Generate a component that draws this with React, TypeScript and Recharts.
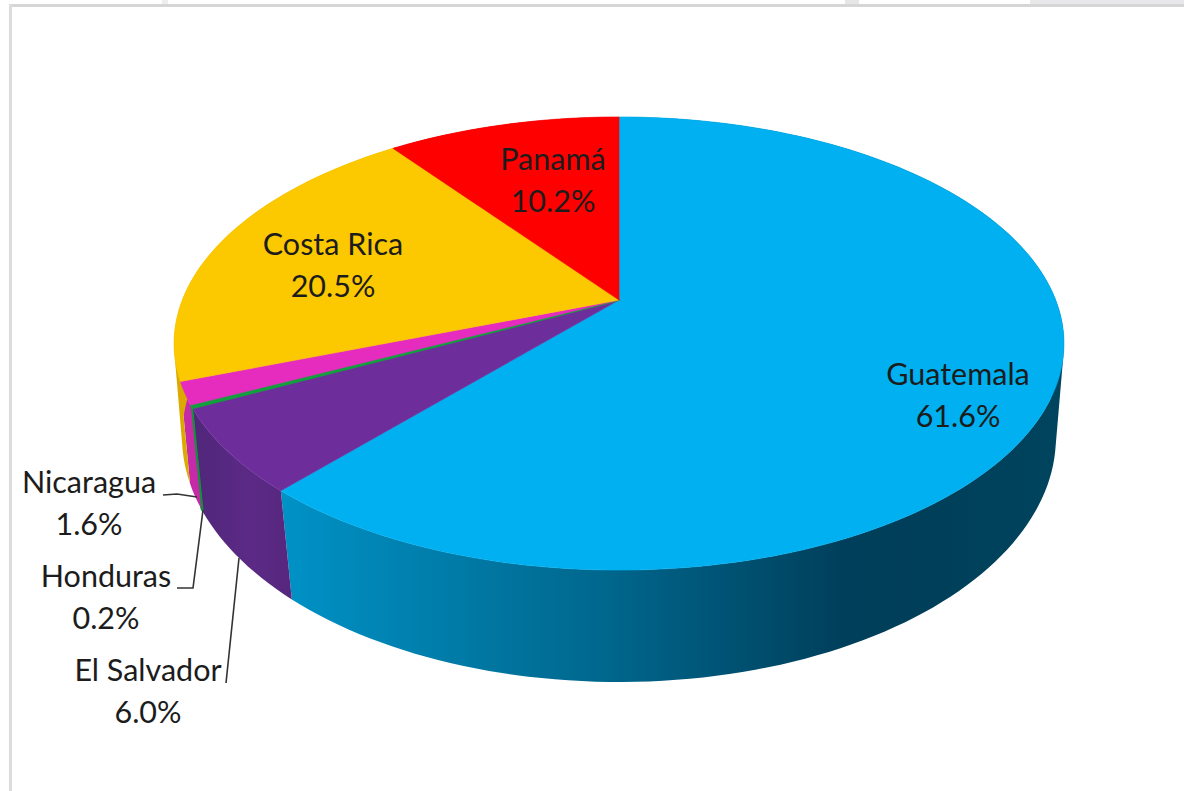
import React from "react";
import { PieChart, Pie } from "recharts";

const countries = ["Guatemala", "El Salvador", "Honduras", "Nicaragua", "Costa Rica", "Panamá"];
const shares = [61.6, 6.0, 0.2, 1.6, 20.5, 10.2];
const topColors = ["#00b0f0", "#6d2e9b", "#12a03c", "#e62cbf", "#fcc800", "#ff0000"];
const wallStops: [number, string][][] = [
  [[0, "#0092c6"], [0.42, "#00668c"], [0.72, "#003f5b"], [0.8, "#003e59"], [1, "#00445e"]],
  [[0, "#50267a"], [0.6, "#5c2a86"], [1, "#56277d"]],
  [[0, "#12903a"], [1, "#12903a"]],
  [[0, "#c62aa8"], [1, "#c62aa8"]],
  [[0, "#dca900"], [1, "#dca900"]],
  [[0, "#b00000"], [1, "#b00000"]],
];

const data = countries.map((name, i) => ({ name, value: shares[i], index: i }));

// the disc is a perspective view, so a plain ellipse puts the slice edges in the wrong spot
const RADIUS = 436.7;
const TOP = { k: 0.192, yScale: 0.4997, xScale: 1, dy: 0 };
const BOTTOM = { k: 0.17, yScale: 0.5447, xScale: 0.986, dy: 95.4 };

type Disc = typeof TOP;

function project(cx: number, cy: number, deg: number, disc: Disc) {
  const u = Math.cos((deg * Math.PI) / 180);
  const v = Math.sin((deg * Math.PI) / 180);
  const d = 1 + disc.k * v;
  return {
    x: cx + (RADIUS * disc.xScale * u) / d,
    y: cy + disc.dy - (RADIUS * disc.yScale * v) / d,
  };
}

function anglesBetween(start: number, end: number) {
  const steps = Math.max(2, Math.ceil(Math.abs(start - end) / 1.5));
  return Array.from({ length: steps + 1 }, (_, i) => start + ((end - start) * i) / steps);
}

function TopSlice(props: any) {
  const { cx, cy, startAngle, endAngle, index } = props;
  const pts = anglesBetween(startAngle, endAngle).map((a) => project(cx, cy, a, TOP));
  const d = `M${cx},${cy}` + pts.map((p) => `L${p.x.toFixed(2)},${p.y.toFixed(2)}`).join("") + "Z";
  // Honduras is a sliver, it only shows as a line in the original
  const width = countries[index] === "Honduras" ? 2 : 0.6;
  return <path d={d} fill={topColors[index]} stroke={topColors[index]} strokeWidth={width} strokeLinejoin="round" />;
}

function WallSlice(props: any) {
  const { cx, cy, startAngle, endAngle, index } = props;
  const angles = anglesBetween(startAngle, endAngle);
  let d = "";
  for (let i = 0; i < angles.length - 1; i++) {
    const quad = [
      project(cx, cy, angles[i], TOP),
      project(cx, cy, angles[i + 1], TOP),
      project(cx, cy, angles[i + 1], BOTTOM),
      project(cx, cy, angles[i], BOTTOM),
    ];
    // same winding on every quad, or they cancel out where they overlap at the sides
    let area = 0;
    quad.forEach((p, j) => {
      const q = quad[(j + 1) % 4];
      area += p.x * q.y - q.x * p.y;
    });
    const pts = area < 0 ? [...quad].reverse() : quad;
    d += "M" + pts.map((p) => `${p.x.toFixed(2)},${p.y.toFixed(2)}`).join("L") + "Z";
  }
  const xs = angles.flatMap((a) => [project(cx, cy, a, TOP).x, project(cx, cy, a, BOTTOM).x]);
  const id = `wall-${index}`;
  const sliver = countries[index] === "Honduras";
  return (
    <g>
      <defs>
        <linearGradient id={id} gradientUnits="userSpaceOnUse" x1={Math.min(...xs)} x2={Math.max(...xs)} y1={0} y2={0}>
          {wallStops[index].map(([o, c]) => (
            <stop key={o} offset={o} stopColor={c} />
          ))}
        </linearGradient>
      </defs>
      <path
        d={d}
        fill={sliver ? wallStops[index][0][1] : `url(#${id})`}
        stroke={sliver ? wallStops[index][0][1] : "none"}
        strokeWidth={sliver ? 1.5 : 0}
      />
    </g>
  );
}

// label anchor (centre of the first line) and optional leader line per country
const labelLayout: Record<string, { x: number; y: number; leader?: string }> = {
  Guatemala: { x: 958, y: 373 },
  "El Salvador": { x: 148, y: 669, leader: "M226,683L239,558" },
  Honduras: { x: 106, y: 575, leader: "M177,588L193,588L203,510" },
  Nicaragua: { x: 89, y: 481, leader: "M163,495L177,494L197,497" },
  "Costa Rica": { x: 333, y: 243 },
  Panamá: { x: 553, y: 158 },
};

function SliceLabel(props: any) {
  const { name, value } = props;
  const pos = labelLayout[name];
  const font = { fontFamily: "Lato, 'Open Sans', sans-serif", fontSize: 30.5, fill: "#1c1c1c" };
  return (
    <g>
      {pos.leader && <path d={pos.leader} fill="none" stroke="#333333" strokeWidth={1.6} />}
      <text x={pos.x} y={pos.y} textAnchor="middle" dominantBaseline="central" {...font}>
        {name}
      </text>
      <text x={pos.x} y={pos.y + 42} textAnchor="middle" dominantBaseline="central" {...font}>
        {`${Number(value).toFixed(1)}%`}
      </text>
    </g>
  );
}

export default function App() {
  return (
    <div style={{ position: "absolute", left: 0, top: 0, width: 1184, height: 791, background: "#fff", overflow: "hidden" }}>
      <div style={{ position: "absolute", left: 1030, top: 0, width: 154, height: 4, background: "#e8e8ea" }} />
      <div style={{ position: "absolute", left: 845, top: 0, width: 14, height: 4, background: "#e6e6e6" }} />
      <div style={{ position: "absolute", left: 162, top: 0, width: 6, height: 4, background: "#eeeeee" }} />
      <div style={{ position: "absolute", left: 9, top: 4, width: 1175, height: 3, background: "#d6d6d6" }} />
      <div style={{ position: "absolute", left: 9, top: 4, width: 3, height: 787, background: "#dcdcdc" }} />
      <div style={{ position: "absolute", left: 0, top: 0 }}>
        <PieChart width={1184} height={791} margin={{ top: 0, right: 0, bottom: 0, left: 0 }}>
          <Pie
            data={data}
            dataKey="value"
            nameKey="name"
            cx={619}
            cy={300}
            outerRadius={RADIUS}
            startAngle={90}
            endAngle={-270}
            stroke="none"
            shape={WallSlice}
            isAnimationActive={false}
          />
          <Pie
            data={data}
            dataKey="value"
            nameKey="name"
            cx={619}
            cy={300}
            outerRadius={RADIUS}
            startAngle={90}
            endAngle={-270}
            stroke="none"
            shape={TopSlice}
            label={SliceLabel}
            labelLine={false}
            isAnimationActive={false}
          />
        </PieChart>
      </div>
    </div>
  );
}
